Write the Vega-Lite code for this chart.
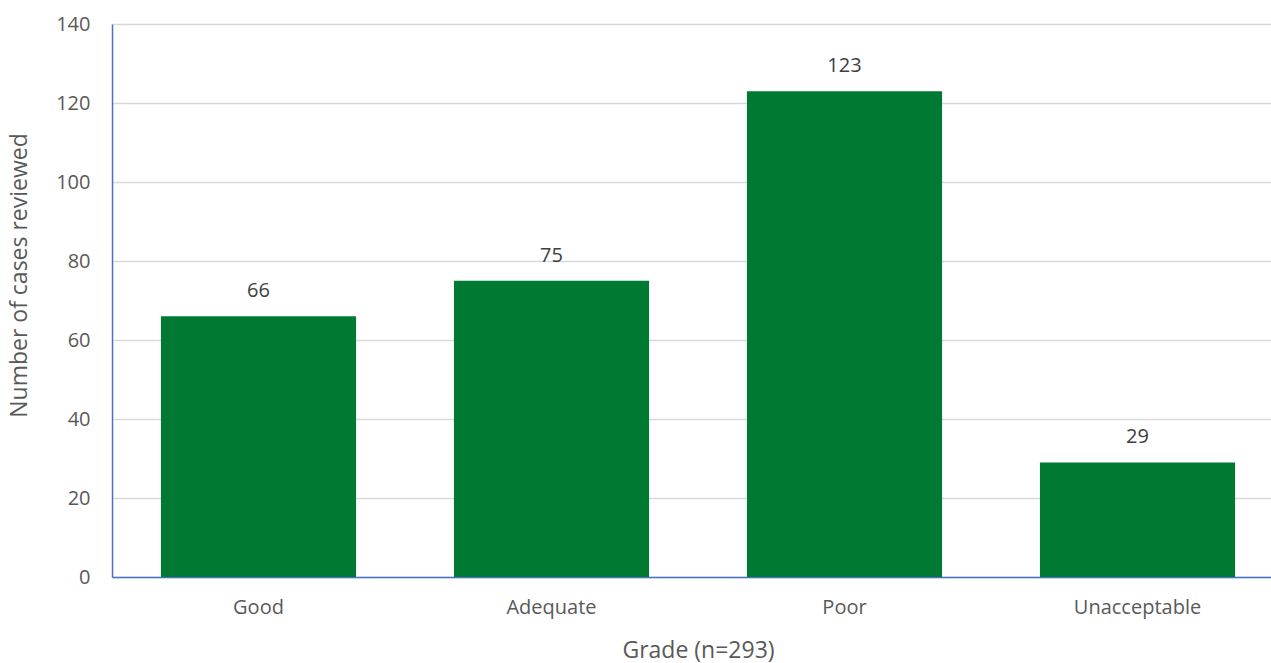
{
  "$schema": "https://vega.github.io/schema/vega-lite/v6.json",
  "width": 1172,
  "height": 553,
  "autosize": {"type": "none"},
  "padding": {"left": 112, "top": 24, "right": 0, "bottom": 86},
  "background": "white",
  "config": {
    "view": {"stroke": null},
    "font": "Open Sans"
  },
  "data": {
    "values": [
      {"grade": "Good", "cases": 66},
      {"grade": "Adequate", "cases": 75},
      {"grade": "Poor", "cases": 123},
      {"grade": "Unacceptable", "cases": 29}
    ]
  },
  "encoding": {
    "x": {
      "field": "grade",
      "type": "nominal",
      "sort": null,
      "scale": {"paddingInner": 0.334, "paddingOuter": 0.167},
      "axis": {
        "title": "Grade (n=293)",
        "labelAngle": 0,
        "labelFontSize": 20,
        "labelColor": "#595959",
        "labelPadding": 20,
        "ticks": false,
        "domainColor": "#4472C4",
        "domainWidth": 1.5,
        "titleFontSize": 23,
        "titleFontWeight": "normal",
        "titleColor": "#595959",
        "titlePadding": 22
      }
    },
    "y": {
      "field": "cases",
      "type": "quantitative",
      "scale": {"domain": [0, 140]},
      "axis": {
        "title": "Number of cases reviewed",
        "values": [0, 20, 40, 60, 80, 100, 120, 140],
        "labelFontSize": 20,
        "labelColor": "#595959",
        "labelPadding": 22,
        "ticks": false,
        "domainColor": "#4472C4",
        "domainWidth": 1.5,
        "gridColor": "#D9D9D9",
        "gridWidth": 1.5,
        "titleFontSize": 23,
        "titleFontWeight": "normal",
        "titleColor": "#595959",
        "titlePadding": 24,
        "titleY": 251
      }
    }
  },
  "layer": [
    {
      "mark": {"type": "bar", "color": "#007A33"}
    },
    {
      "mark": {"type": "text", "dy": -25, "fontSize": 20, "color": "#404040", "baseline": "middle"},
      "encoding": {"text": {"field": "cases", "type": "quantitative"}}
    }
  ]
}
